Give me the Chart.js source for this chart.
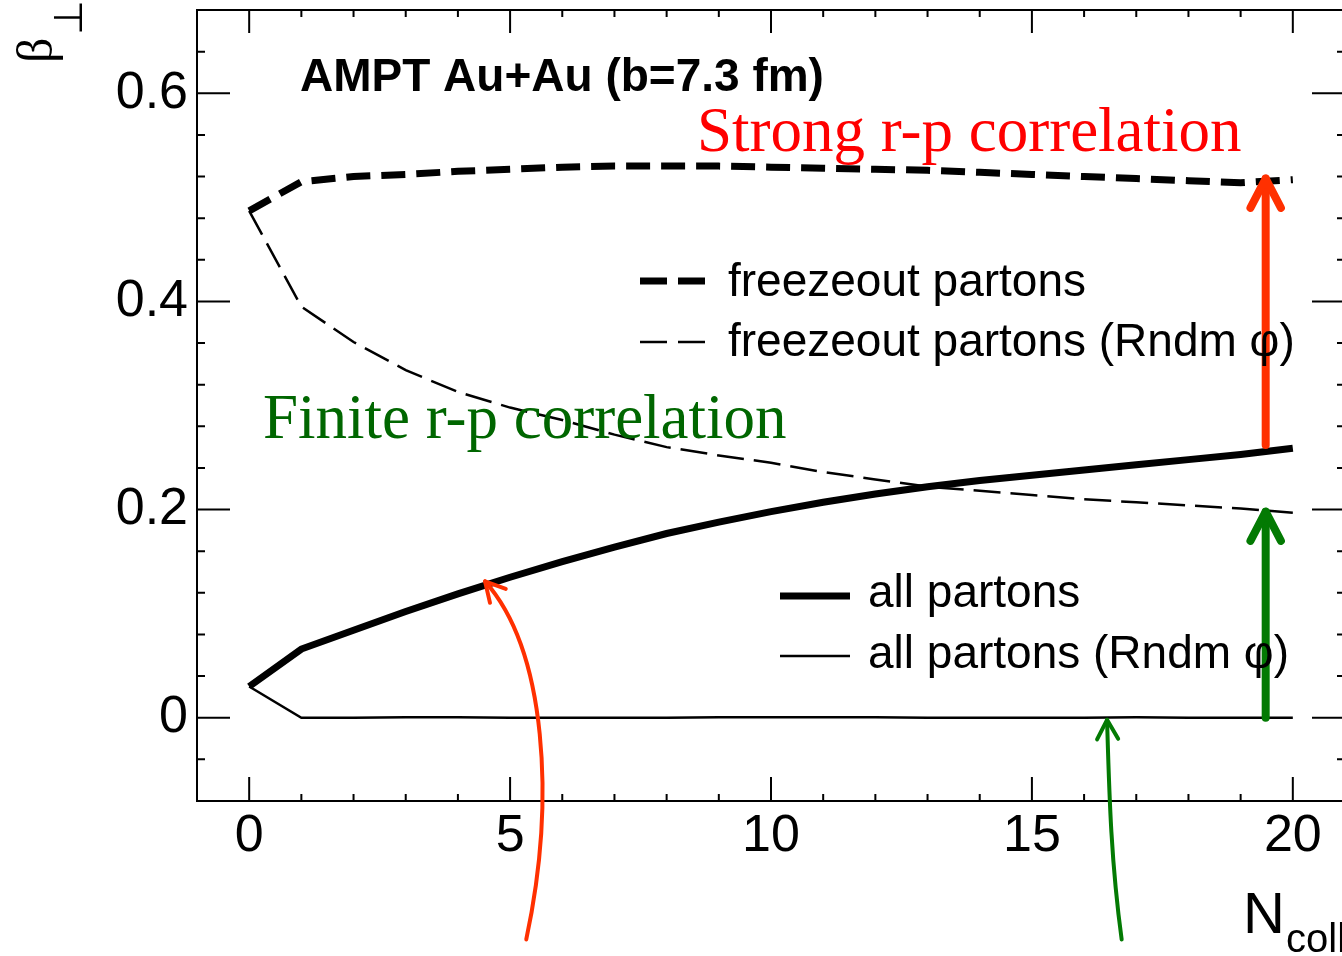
<!DOCTYPE html>
<html>
<head>
<meta charset="utf-8">
<script src="https://cdn.jsdelivr.net/npm/chart.js@4.4.1/dist/chart.umd.min.js"></script>
<style>
  html, body { margin: 0; padding: 0; background: #fff; overflow: hidden; }
</style>
</head>
<body>
<canvas id="chart" width="1350" height="956"></canvas>
<script>
// AMPT Au+Au (b=7.3 fm): transverse flow velocity vs N_coll
const nColl = [0, 1, 2, 3, 4, 5, 6, 7, 8, 9, 10, 11, 12, 13, 14, 15, 16, 17, 18, 19, 20];
const freezeout = [0.487, 0.515, 0.520, 0.522, 0.525, 0.527, 0.529, 0.530, 0.530, 0.530, 0.529,
  0.528, 0.527, 0.526, 0.524, 0.522, 0.520, 0.518, 0.516, 0.514, 0.517];
const freezeoutRndm = [0.487, 0.395, 0.361, 0.334, 0.313, 0.298, 0.286, 0.272, 0.260, 0.252, 0.245,
  0.236, 0.229, 0.222, 0.218, 0.214, 0.210, 0.207, 0.204, 0.201, 0.197];
const allPartons = [0.030, 0.066, 0.084, 0.102, 0.119, 0.135, 0.150, 0.164, 0.177, 0.188, 0.198,
  0.207, 0.215, 0.222, 0.228, 0.233, 0.238, 0.243, 0.248, 0.253, 0.259];
const allPartonsRndm = [0.030, 0.000, 0.000, 0.0005, 0.0005, 0.000, 0.000, 0.000, 0.000, 0.0005, 0.0005,
  0.0005, 0.0005, 0.000, 0.000, 0.000, 0.000, 0.0005, 0.000, 0.000, 0.000];

const xTicks = [0, 5, 10, 15, 20];
const yTicks = [0, 0.2, 0.4, 0.6];

const SANS = '"Liberation Sans", Arial, sans-serif';
const SERIF = '"Liberation Serif", "Times New Roman", serif';
const RED = '#ff0000';
const RED_ARROW = '#ff3000';
const GREEN = '#006600';
const GREEN_ARROW = '#037a03';

const toPoints = (ys) => nColl.map((x, i) => ({ x, y: ys[i] }));

// ROOT-style frame with inward ticks on all four sides
const framePlugin = {
  id: 'frame',
  afterDraw(chart) {
    const { ctx, chartArea: a, scales } = chart;
    ctx.save();
    ctx.strokeStyle = '#000';
    ctx.lineWidth = 2;
    ctx.strokeRect(a.left, a.top, a.right - a.left, a.bottom - a.top);
    ctx.beginPath();
    for (let k = -1; k <= 21; k++) {
      const px = scales.x.getPixelForValue(k);
      const major = k % 5 === 0;
      ctx.moveTo(px, a.bottom); ctx.lineTo(px, a.bottom - (major ? 24 : 7));
      ctx.moveTo(px, a.top); ctx.lineTo(px, a.top + (major ? 23 : 7));
    }
    for (let k = -2; k <= 17; k++) {
      const py = scales.y.getPixelForValue(k * 0.04);
      const major = k % 5 === 0;
      ctx.moveTo(a.left, py); ctx.lineTo(a.left + (major ? 33 : 8), py);
      ctx.moveTo(a.right, py); ctx.lineTo(a.right - (major ? 33 : 8), py);
    }
    ctx.stroke();
    ctx.restore();
  },
};

function arrowHead(ctx, tx, ty, fromX, fromY, len, spread) {
  const ang = Math.atan2(fromY - ty, fromX - tx);
  ctx.beginPath();
  ctx.moveTo(tx + len * Math.cos(ang - spread), ty + len * Math.sin(ang - spread));
  ctx.lineTo(tx, ty);
  ctx.lineTo(tx + len * Math.cos(ang + spread), ty + len * Math.sin(ang + spread));
  ctx.stroke();
}

const annotationPlugin = {
  id: 'annotations',
  afterDraw(chart) {
    const { ctx, scales } = chart;
    const X = (v) => scales.x.getPixelForValue(v);
    const Y = (v) => scales.y.getPixelForValue(v);
    ctx.save();
    ctx.lineCap = 'round';
    ctx.lineJoin = 'round';

    // straight thick arrows
    ctx.lineWidth = 8;
    ctx.strokeStyle = RED_ARROW;
    ctx.beginPath();
    ctx.moveTo(X(19.48), Y(0.262));
    ctx.lineTo(X(19.48), Y(0.518));
    ctx.stroke();
    arrowHead(ctx, X(19.48), Y(0.518), X(19.48), Y(0.3), 33, 0.48);

    ctx.strokeStyle = GREEN_ARROW;
    ctx.beginPath();
    ctx.moveTo(X(19.48), Y(0.0));
    ctx.lineTo(X(19.48), Y(0.198));
    ctx.stroke();
    arrowHead(ctx, X(19.48), Y(0.198), X(19.48), Y(0.05), 33, 0.48);

    // curved thin arrows
    ctx.lineWidth = 4;
    ctx.strokeStyle = RED_ARROW;
    ctx.beginPath();
    ctx.moveTo(X(5.31), Y(-0.213));
    ctx.bezierCurveTo(X(5.88), Y(-0.079), X(5.69), Y(0.065), X(4.52), Y(0.131));
    ctx.stroke();
    arrowHead(ctx, X(4.52), Y(0.131), X(5.69), Y(0.065), 22, 0.5);

    ctx.strokeStyle = GREEN_ARROW;
    ctx.beginPath();
    ctx.moveTo(X(16.72), Y(-0.213));
    ctx.bezierCurveTo(X(16.51), Y(-0.136), X(16.48), Y(-0.069), X(16.44), Y(-0.002));
    ctx.stroke();
    arrowHead(ctx, X(16.44), Y(-0.002), X(16.48), Y(-0.069), 22, 0.5);

    // titles
    ctx.textAlign = 'left';
    ctx.textBaseline = 'alphabetic';
    ctx.fillStyle = '#000';
    ctx.font = `bold 46px ${SANS}`;
    ctx.fillText('AMPT Au+Au (b=7.3 fm)', 300, 91);

    ctx.font = `63px ${SERIF}`;
    ctx.fillStyle = RED;
    ctx.fillText('Strong r-p correlation', 697, 151);
    ctx.fillStyle = GREEN;
    ctx.fillText('Finite r-p correlation', 263, 438);

    // legends
    const rows = [
      { x1: 640, x2: 705, y: 281, w: 7, dash: [27, 11], text: 'freezeout partons', tx: 728, ty: 296 },
      { x1: 640, x2: 705, y: 342, w: 2.5, dash: [27, 11], text: 'freezeout partons (Rndm \u03c6)', tx: 728, ty: 356 },
      { x1: 780, x2: 850, y: 596, w: 7, dash: [], text: 'all partons', tx: 868, ty: 607 },
      { x1: 780, x2: 850, y: 656, w: 2.5, dash: [], text: 'all partons (Rndm \u03c6)', tx: 868, ty: 668 },
    ];
    ctx.lineCap = 'butt';
    ctx.font = `46px ${SANS}`;
    ctx.fillStyle = '#000';
    ctx.strokeStyle = '#000';
    rows.forEach((r) => {
      ctx.lineWidth = r.w;
      ctx.setLineDash(r.dash);
      ctx.beginPath();
      ctx.moveTo(r.x1, r.y);
      ctx.lineTo(r.x2, r.y);
      ctx.stroke();
      ctx.setLineDash([]);
      ctx.fillText(r.text, r.tx, r.ty);
    });

    // axis titles
    ctx.save();
    ctx.translate(52, 63);
    ctx.rotate(-Math.PI / 2);
    ctx.font = `50px ${SERIF}`;
    ctx.fillText('\u03b2', 0, 0);
    ctx.font = `40px ${SANS}`;
    ctx.fillText('\u22a5', 28, 30);
    ctx.restore();

    ctx.font = `58px ${SANS}`;
    ctx.fillText('N', 1243, 933);
    ctx.font = `40px ${SANS}`;
    ctx.fillText('coll', 1286, 952);

    ctx.restore();
  },
};

const noEdgePadding = (s) => {
  s.paddingTop = 0; s.paddingBottom = 0; s.paddingLeft = 0; s.paddingRight = 0;
};

new Chart(document.getElementById('chart'), {
  type: 'line',
  data: {
    datasets: [
      { label: 'freezeout partons', data: toPoints(freezeout), borderColor: '#000', borderWidth: 7, borderDash: [24, 11] },
      { label: 'freezeout partons (Rndm \u03c6)', data: toPoints(freezeoutRndm), borderColor: '#000', borderWidth: 2.5, borderDash: [27, 10] },
      { label: 'all partons', data: toPoints(allPartons), borderColor: '#000', borderWidth: 7 },
      { label: 'all partons (Rndm \u03c6)', data: toPoints(allPartonsRndm), borderColor: '#000', borderWidth: 2.5 },
    ],
  },
  options: {
    responsive: false,
    animation: false,
    events: [],
    elements: { point: { radius: 0 }, line: { tension: 0, fill: false } },
    layout: { padding: { top: 10, right: 5, left: 0, bottom: 0 } },
    plugins: { legend: { display: false }, tooltip: { enabled: false } },
    scales: {
      x: {
        type: 'linear',
        min: -1,
        max: 21,
        afterBuildTicks: (s) => { s.ticks = xTicks.map((v) => ({ value: v })); },
        afterFit: (s) => { s.height = 155; noEdgePadding(s); },
        grid: { display: false, drawTicks: false },
        border: { display: false },
        ticks: {
          autoSkip: false,
          maxRotation: 0,
          padding: 4,
          color: '#000',
          font: { family: SANS, size: 52 },
          callback: (v) => String(v),
        },
      },
      y: {
        min: -0.08,
        max: 0.68,
        afterBuildTicks: (s) => { s.ticks = yTicks.map((v) => ({ value: v })); },
        afterFit: (s) => { s.width = 197; noEdgePadding(s); },
        grid: { display: false, drawTicks: false },
        border: { display: false },
        ticks: {
          padding: 9,
          color: '#000',
          font: { family: SANS, size: 52 },
          callback: (v) => (v === 0 ? '0' : v.toFixed(1)),
        },
      },
    },
  },
  plugins: [framePlugin, annotationPlugin],
});
</script>
</body>
</html>
